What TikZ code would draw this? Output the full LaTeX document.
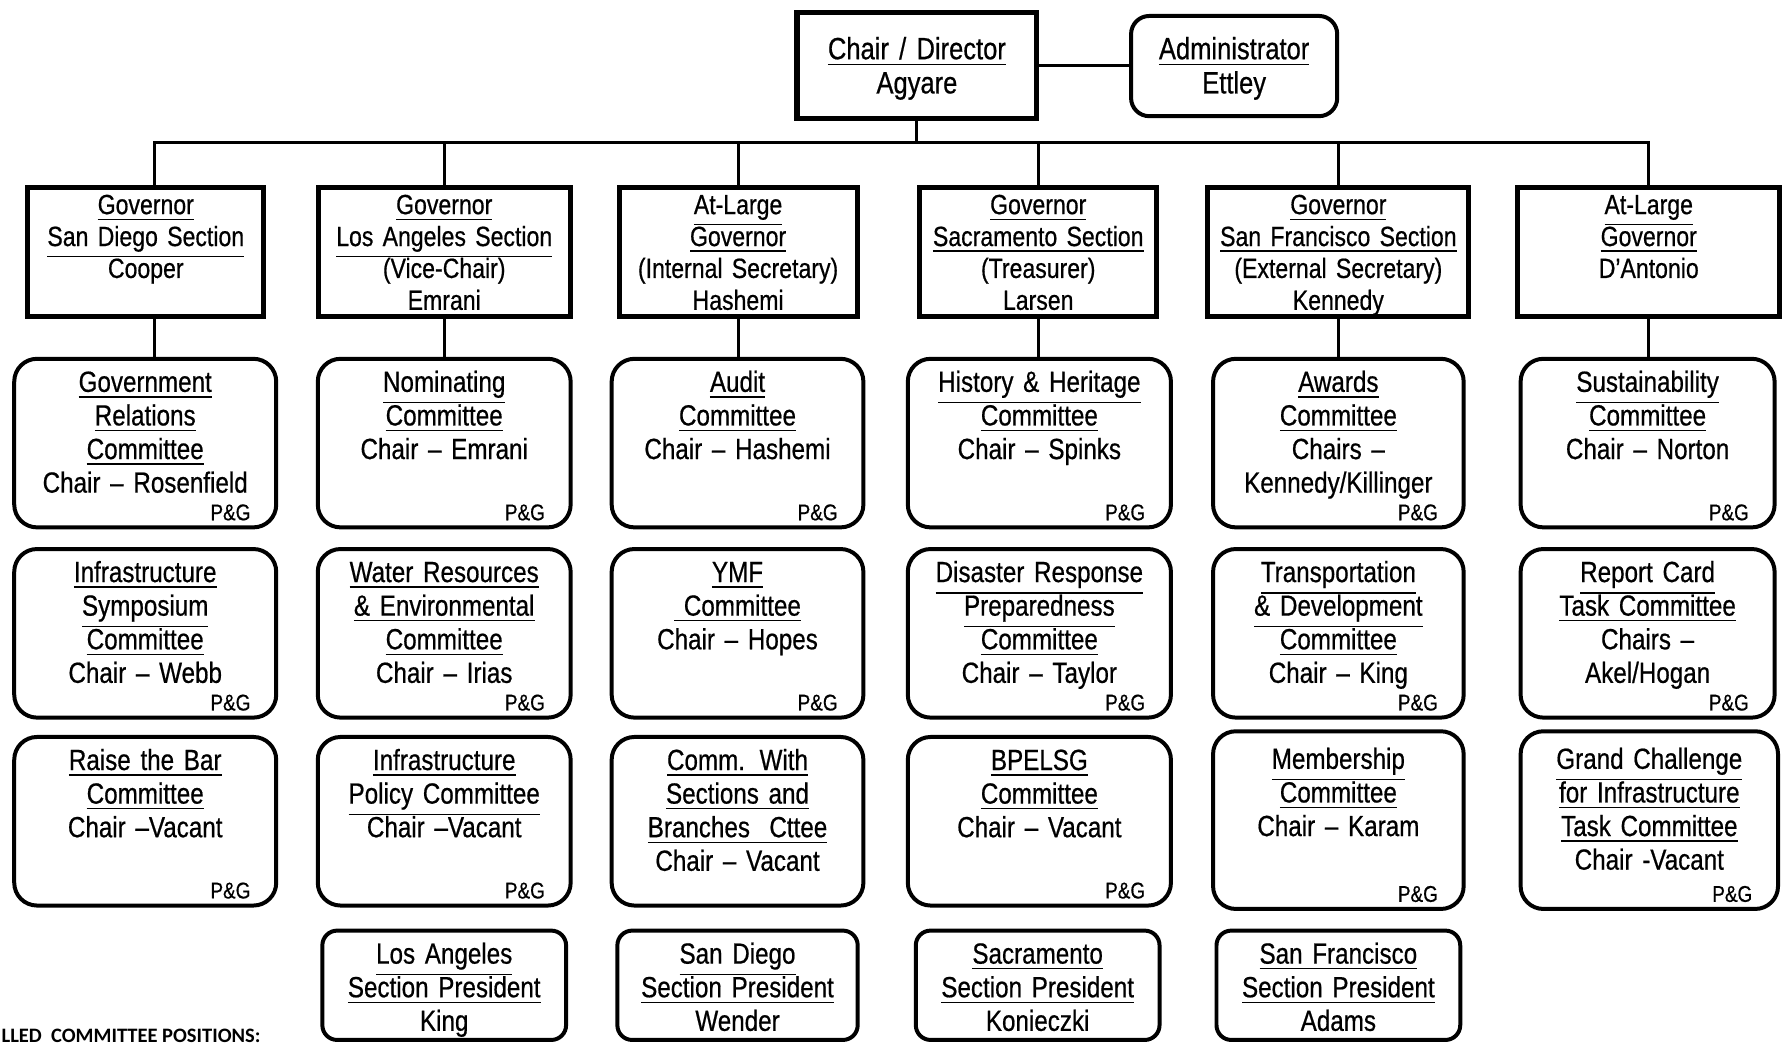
\documentclass[tikz,border=0pt]{standalone}
\usepackage{fontspec}
\setmainfont{Liberation Sans}[FakeStretch=0.83,FakeBold=0.6,WordSpace=0.85]
\newfontfamily\notefont{Carlito}
% heavier underline rule, fixed line pitch
\font\exfont=cmex10 \fontdimen8\exfont=0.6pt
\lineskiplimit=-\maxdimen \normallineskiplimit=-\maxdimen

\begin{document}
\begin{tikzpicture}[x=0.5pt,y=-0.5pt]
\tikzstyle{chairbox} = [rectangle, draw, line width=2.6pt, text width=105pt,
text height=20.5pt, text depth=26pt, align=center, inner sep=0pt, font=\fontsize{13.5}{15}\selectfont]
\tikzstyle{adminbox} = [rectangle, draw, line width=1.75pt, rounded corners=8pt,
text width=90.5pt, text height=19pt, text depth=25pt, align=center, inner sep=0pt, font=\fontsize{13.5}{15}\selectfont]
\tikzstyle{gov} = [rectangle, draw, line width=2.2pt, align=center, inner sep=0pt,
text height=11.75pt, text depth=44.75pt, font=\fontsize{12.2}{14}\selectfont]
\tikzstyle{cttee} = [rectangle, draw, line width=1.75pt, rounded corners=10pt, align=center,
inner sep=0pt, text height=14.5pt, text depth=59.5pt, font=\fontsize{12.8}{14.75}\selectfont]
\tikzstyle{pres} = [cttee, rounded corners=6.5pt, text depth=33.5pt]
\tikzstyle{pg} = [anchor=base east, xshift=-12pt, yshift=4pt, inner sep=0pt, font=\fontsize{10}{11}\selectfont]
\tikzstyle{line} = [draw, line width=1.3pt]

\useasboundingbox (0,0) rectangle (1568,917);
\clip (0,0) rectangle (1568,917);

% top
\node [chairbox] (chair) at (805,57.5) {\underline{Chair / Director}\\Agyare};
\node [adminbox] (admin) at (1083.5,58) {\underline{Administrator}\\Ettley};
\coordinate (bus) at (0,125);

% governors
\node [gov, text width=103.5pt] (gov1) at (128,221) {\underline{Governor}\\\underline{San Diego Section}\\Cooper};
\node [gov, text width=110.5pt] (gov2) at (390,221) {\underline{Governor}\\\underline{Los Angeles Section}\\(Vice-Chair)\\Emrani};
\node [gov, text width=104.5pt] (gov3) at (648,221) {\underline{At-Large}\\\underline{Governor}\\(Internal Secretary)\\Hashemi};
\node [gov, text width=104pt] (gov4) at (911.5,221) {\underline{Governor}\\\underline{Sacramento Section}\\(Treasurer)\\Larsen};
\node [gov, text width=114.5pt] (gov5) at (1175,221) {\underline{Governor}\\\underline{San Francisco Section}\\(External Secretary)\\Kennedy};
\node [gov, text width=115pt] (gov6) at (1447.5,221) {\underline{At-Large}\\\underline{Governor}\\D’Antonio};
\coordinate (stem1) at ([xshift=4pt]gov1.north);
\coordinate (foot1) at ([xshift=4pt]gov1.south);

% row 1
\node [cttee, text width=115pt] (govrel) at (127.5,389) {\underline{Government}\\\underline{Relations}\\\underline{Committee}\\Chair – Rosenfield};
\node [cttee, text width=111pt] (nomin) at (390,389) {\underline{Nominating}\\\underline{Committee}\\Chair – Emrani};
\node [cttee, text width=110.5pt] (audit) at (647.5,389) {\underline{Audit}\\\underline{Committee}\\Chair – Hashemi};
\node [cttee, text width=115.5pt] (history) at (912.5,389) {\underline{History \& Heritage}\\\underline{Committee}\\Chair – Spinks};
\node [cttee, text width=110pt] (awards) at (1175,389) {\underline{Awards}\\\underline{Committee}\\Chairs –\\Kennedy/Killinger};
\node [cttee, text width=111.5pt] (sustain) at (1446.5,389) {\underline{Sustainability}\\\underline{Committee}\\Chair – Norton};
% row 2
\node [cttee, text width=115pt] (infsym) at (127.5,556) {\underline{Infrastructure}\\\underline{Symposium}\\\underline{Committee}\\Chair – Webb};
\node [cttee, text width=111pt] (water) at (390,556) {\underline{Water Resources}\\\underline{\& Environmental}\\\underline{Committee}\\Chair – Irias};
\node [cttee, text width=110.5pt] (ymf) at (647.5,556) {\underline{YMF}\\\underline{\ Committee}\\Chair – Hopes};
\node [cttee, text width=115.5pt] (disaster) at (912.5,556) {\underline{Disaster Response}\\\underline{Preparedness}\\\underline{Committee}\\Chair – Taylor};
\node [cttee, text width=110pt] (transp) at (1175,556) {\underline{Transportation}\\\underline{\& Development}\\\underline{Committee}\\Chair – King};
\node [cttee, text width=111.5pt] (report) at (1446.5,556) {\underline{Report Card}\\\underline{Task Committee}\\Chairs –\\Akel/Hogan};
% row 3
\node [cttee, text width=115pt] (raisebar) at (127.5,721) {\underline{Raise the Bar}\\\underline{Committee}\\Chair –Vacant};
\node [cttee, text width=111pt] (infpol) at (390,721) {\underline{Infrastructure}\\\underline{Policy Committee}\\Chair –Vacant};
\node [cttee, text width=110.5pt] (comm) at (647.5,721) {\underline{Comm. With}\\\underline{Sections and}\\\underline{Branches\ \ Cttee}\\Chair – Vacant};
\node [cttee, text width=115.5pt] (bpelsg) at (912.5,721) {\underline{BPELSG}\\\underline{Committee}\\Chair – Vacant};
\node [cttee, text width=110pt, text height=16.5pt, text depth=61.5pt] (member) at (1175,720) {\underline{Membership}\\\underline{Committee}\\Chair – Karam};
\node [cttee, text width=113pt, text height=16.5pt, text depth=61.5pt] (grand) at (1448,720) {\underline{Grand Challenge}\\\underline{for Infrastructure}\\\underline{Task Committee}\\Chair -Vacant};
% row 4
\node [pres, text width=107pt] (lapres) at (390,865) {\underline{Los Angeles}\\\underline{Section President}\\King};
\node [pres, text width=105.5pt] (sdpres) at (647.5,865) {\underline{San Diego}\\\underline{Section President}\\Wender};
\node [pres, text width=107pt] (sacpres) at (911,865) {\underline{Sacramento}\\\underline{Section President}\\Konieczki};
\node [pres, text width=107pt] (sfpres) at (1175,865) {\underline{San Francisco}\\\underline{Section President}\\Adams};

\foreach \c in {govrel,nomin,audit,history,awards,sustain,infsym,water,ymf,disaster,
transp,report,raisebar,infpol,bpelsg,member,grand}
  \node [pg] at (\c.south east) {P\&G};

\node [anchor=base west, inner sep=0pt, font=\notefont\bfseries\fontsize{9}{10}\selectfont] (note) at (1,915) {LLED\ \ COMMITTEE POSITIONS:};

\tikzstyle{every path}=[line]
\path (chair.east) -- (chair.east -| admin.west);
\path (chair.south) -- (chair.south |- bus);
\path (stem1) -- (stem1 |- bus) -- (gov6.north |- bus) -- (gov6.north);
\foreach \g in {gov2,gov3,gov4,gov5}
  \path (\g.north |- bus) -- (\g.north);
\path (foot1) -- (foot1 |- govrel.north);
\foreach \g/\c in {gov2/nomin,gov3/audit,gov4/history,gov5/awards,gov6/sustain}
  \path (\g.south) -- (\g.south |- \c.north);

\end{tikzpicture}
\end{document}
